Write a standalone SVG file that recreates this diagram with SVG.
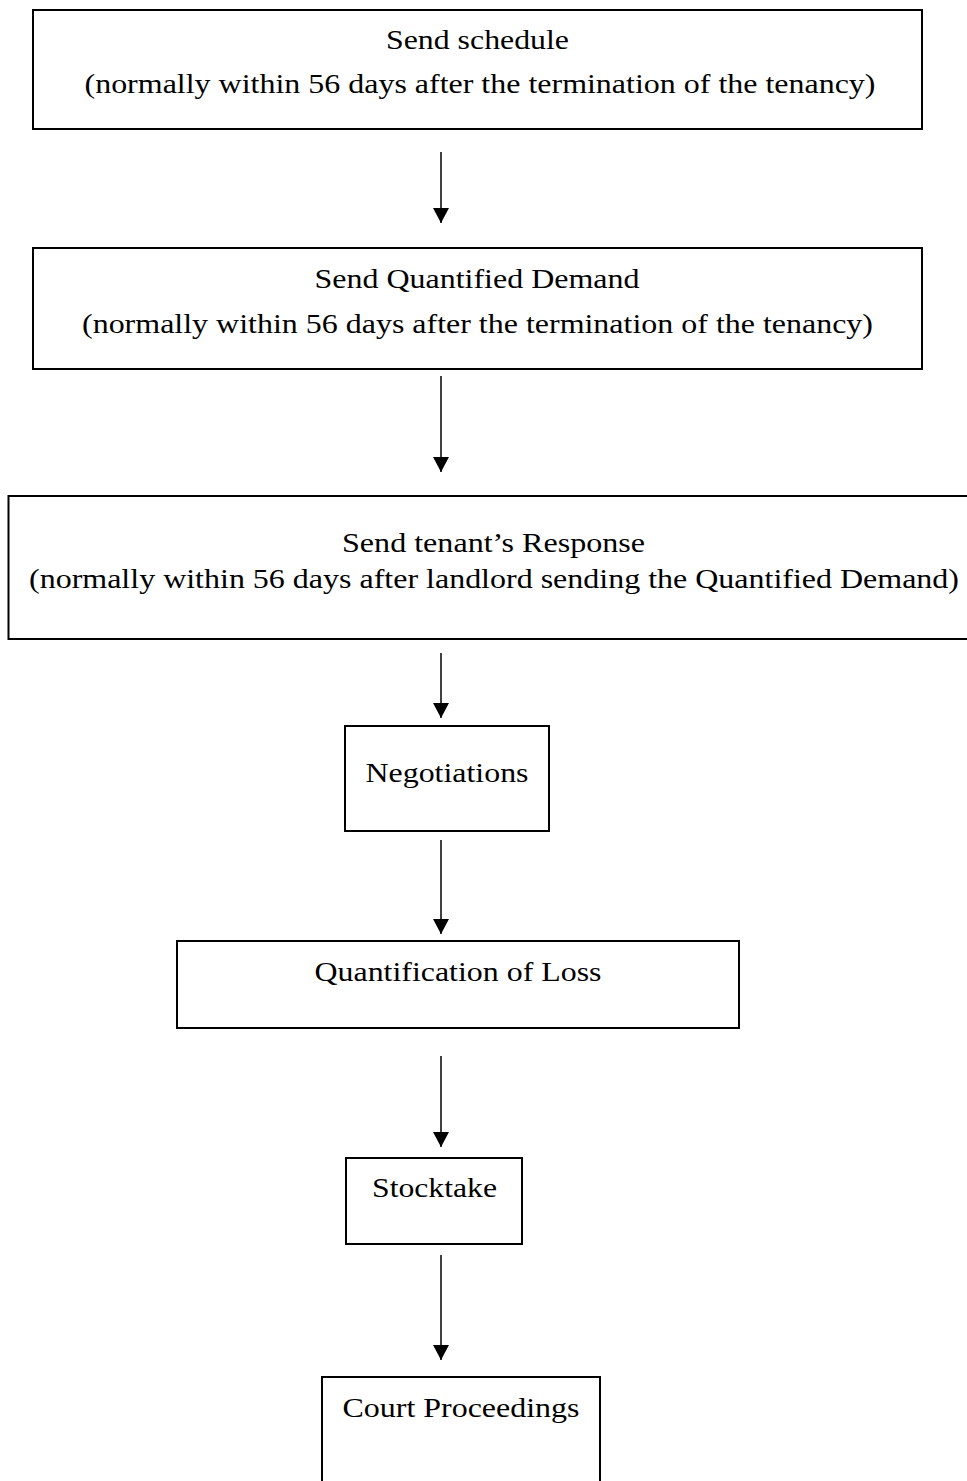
<svg xmlns="http://www.w3.org/2000/svg" width="967" height="1481" viewBox="0 0 967 1481">
<style>
.box{fill:#fff;stroke:#000;stroke-width:2}
.t{font-family:"Liberation Serif","Times New Roman",serif;font-size:28px;fill:#000;text-anchor:middle}
.c{stroke:#000;stroke-width:1.5;fill:none}
</style>
<defs>
<marker id="ah" viewBox="0 0 16 15" refX="8" refY="15" markerWidth="16" markerHeight="15" markerUnits="userSpaceOnUse" orient="0">
<path d="M0,0 L16,0 L8,15 z" fill="#000"/>
</marker>
</defs>
<rect width="967" height="1481" fill="#fff"/>
<g id="connectors">
<line class="c" x1="441" y1="152" x2="441" y2="223" marker-end="url(#ah)"/>
<line class="c" x1="441" y1="376" x2="441" y2="472" marker-end="url(#ah)"/>
<line class="c" x1="441" y1="653" x2="441" y2="718" marker-end="url(#ah)"/>
<line class="c" x1="441" y1="840" x2="441" y2="934" marker-end="url(#ah)"/>
<line class="c" x1="441" y1="1056" x2="441" y2="1147" marker-end="url(#ah)"/>
<line class="c" x1="441" y1="1255" x2="441" y2="1360" marker-end="url(#ah)"/>
</g>
<g id="n1">
<rect class="box" x="33" y="10" width="889" height="119"/>
<text class="t" x="477.5" y="48.5" textLength="183" lengthAdjust="spacingAndGlyphs">Send schedule</text>
<text class="t" x="480" y="93" textLength="791" lengthAdjust="spacingAndGlyphs">(normally within 56 days after the termination of the tenancy)</text>
</g>
<g id="n2">
<rect class="box" x="33" y="248" width="889" height="121"/>
<text class="t" x="477" y="288" textLength="325" lengthAdjust="spacingAndGlyphs">Send Quantified Demand</text>
<text class="t" x="477.5" y="333" textLength="791" lengthAdjust="spacingAndGlyphs">(normally within 56 days after the termination of the tenancy)</text>
</g>
<g id="n3">
<rect class="box" x="8.5" y="496" width="968" height="143"/>
<text class="t" x="493.5" y="552" textLength="303" lengthAdjust="spacingAndGlyphs">Send tenant’s Response</text>
<text class="t" x="494" y="588" textLength="930" lengthAdjust="spacingAndGlyphs">(normally within 56 days after landlord sending the Quantified Demand)</text>
</g>
<g id="n4">
<rect class="box" x="345" y="726" width="204" height="105"/>
<text class="t" x="447" y="782" textLength="163" lengthAdjust="spacingAndGlyphs">Negotiations</text>
</g>
<g id="n5">
<rect class="box" x="177" y="941" width="562" height="87"/>
<text class="t" x="458" y="981" textLength="287" lengthAdjust="spacingAndGlyphs">Quantification of Loss</text>
</g>
<g id="n6">
<rect class="box" x="346" y="1158" width="176" height="86"/>
<text class="t" x="434.5" y="1197" textLength="125" lengthAdjust="spacingAndGlyphs">Stocktake</text>
</g>
<g id="n7">
<rect class="box" x="322" y="1377" width="278" height="110"/>
<text class="t" x="461" y="1417" textLength="237" lengthAdjust="spacingAndGlyphs">Court Proceedings</text>
</g>
</svg>
